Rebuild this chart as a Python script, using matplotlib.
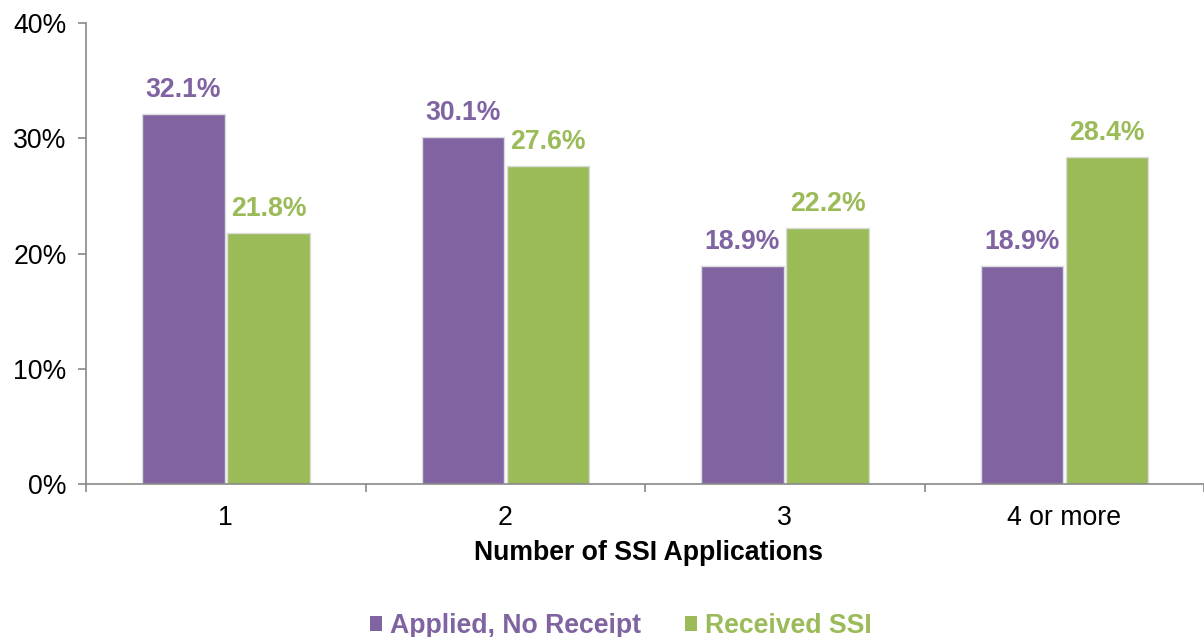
import numpy as np
import matplotlib.pyplot as plt

plt.rcParams['font.family'] = ['Liberation Sans', 'DejaVu Sans']

# Data
categories = ["1", "2", "3", "4 or more"]
applied_no_receipt = [32.1, 30.1, 18.9, 18.9]
received_ssi = [21.8, 27.6, 22.2, 28.4]
series_names = ["Applied, No Receipt", "Received SSI"]

purple = "#8064A2"
green = "#9BBB59"
axis_gray = "#898989"
fs = 19.2

fig = plt.figure(figsize=(12.04, 6.37), dpi=100)
ax = fig.add_axes([86 / 1204, 1 - 484 / 637, 1118 / 1204, 461 / 637])

x = np.arange(len(categories))
w = 0.296
b1 = ax.bar(x - 0.151, applied_no_receipt, w, color=purple, edgecolor="#dcdcdc", linewidth=1.0, label=series_names[0])
b2 = ax.bar(x + 0.153, received_ssi, w, color=green, edgecolor="#dcdcdc", linewidth=1.0, label=series_names[1])

for bars, vals, c in [(b1, applied_no_receipt, purple), (b2, received_ssi, green)]:
    for rect, v in zip(bars, vals):
        ax.annotate(f"{v:.1f}%", (rect.get_x() + rect.get_width() / 2, v),
                    xytext=(0, 8), textcoords="offset points", ha="center", va="bottom",
                    color=c, fontsize=fs, fontweight="bold")

ax.set_xlim(-0.5, -0.5 + 1118 / 281.3)
ax.set_ylim(0, 40)
ax.set_yticks([0, 10, 20, 30, 40])
ax.set_yticklabels([f"{t}%" for t in [0, 10, 20, 30, 40]])
ax.set_xticks(x)
ax.set_xticklabels(categories)
ax.set_xticks(np.arange(-0.5, 4, 1), minor=True)
ax.tick_params(axis="x", which="major", length=0, labelsize=fs, pad=15)
ax.tick_params(axis="x", which="minor", length=6, color=axis_gray, width=1.2)
ax.tick_params(axis="y", length=6, color=axis_gray, width=1.2, labelsize=fs, pad=8)

for s in ["top", "right"]:
    ax.spines[s].set_visible(False)
for s in ["left", "bottom"]:
    ax.spines[s].set_color(axis_gray)
    ax.spines[s].set_linewidth(1.2)

ax.set_xlabel("Number of SSI Applications", fontsize=fs, fontweight="bold", va="center")
ax.xaxis.set_label_coords((649 - 86) / 1118, -(553 - 484) / 461)

leg = fig.legend(handles=[b1, b2], loc="center", bbox_to_anchor=(621 / 1204, 1 - 626 / 637),
                 ncol=2, frameon=False, handlelength=0.45, handleheight=0.45,
                 handletextpad=0.3, columnspacing=1.65, prop={'weight': 'bold', 'size': fs})
for t, c in zip(leg.get_texts(), [purple, green]):
    t.set_color(c)
for h in leg.legend_handles:
    h.set_edgecolor("none")

fig.savefig("out.png", dpi=100)
